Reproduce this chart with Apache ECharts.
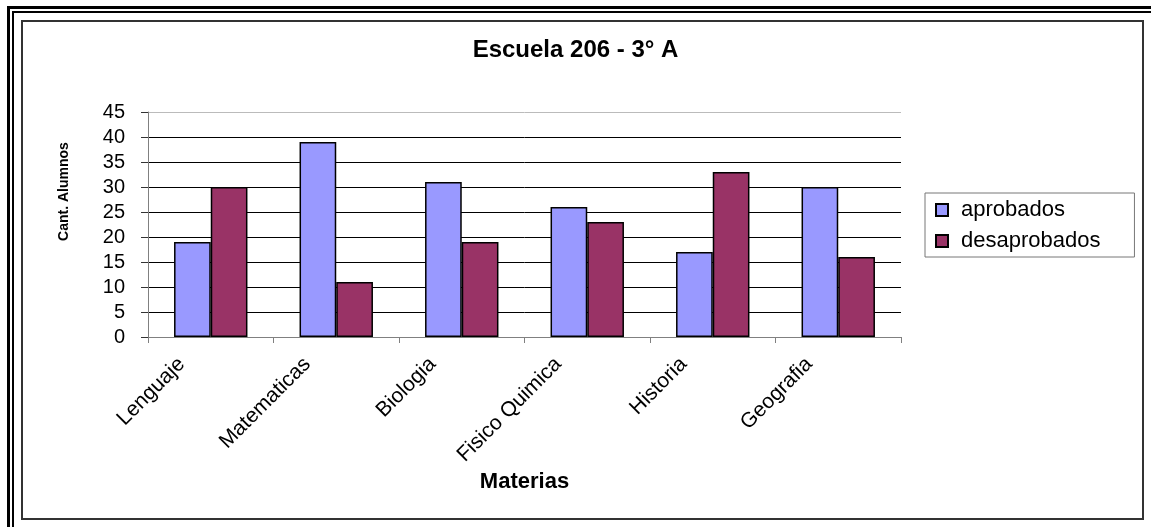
<!DOCTYPE html>
<html>
<head>
<meta charset="utf-8">
<title>Escuela 206 - 3° A</title>
<script src="https://cdn.jsdelivr.net/npm/echarts@6/dist/echarts.min.js"></script>
<style>
  html, body { margin: 0; padding: 0; background: #fff; }
  #chart { width: 1151px; height: 527px; }
</style>
</head>
<body>
<div id="chart"></div>
<script>
// Subjects and pass / fail counts per subject
const materias = ['Lenguaje', 'Matematicas', 'Biologia', 'Fisico Quimica', 'Historia', 'Geografia'];
const aprobados = [19, 39, 31, 26, 17, 30];
const desaprobados = [30, 11, 19, 23, 33, 16];
const seriesNames = ['aprobados', 'desaprobados'];
const yMin = 0, yMax = 45, yStep = 5;

const FONT = '"Liberation Sans", Arial, Helvetica, sans-serif';

const chart = echarts.init(document.getElementById('chart'), null, { renderer: 'canvas' });

chart.setOption({
  backgroundColor: '#ffffff',
  animation: false,
  textStyle: { fontFamily: FONT, color: '#000' },
  title: {
    text: 'Escuela 206 - 3° A',
    left: 'center',
    top: 33,
    padding: [5, 0, 5, 21],
    textStyle: { fontFamily: FONT, fontSize: 24, fontWeight: 'bold', color: '#000' }
  },
  legend: {
    orient: 'vertical',
    left: 925,
    top: 193,
    padding: [6, 34, 5, 10],
    itemGap: 9,
    itemWidth: 12,
    itemHeight: 12,
    icon: 'rect',
    borderColor: '#777',
    borderWidth: 1,
    data: seriesNames,
    textStyle: { fontFamily: FONT, fontSize: 22, color: '#000', padding: [0, 0, 0, 8] }
  },
  grid: { left: 148, right: 250, top: 112, bottom: 190, containLabel: false },
  xAxis: {
    type: 'category',
    data: materias,
    boundaryGap: true,
    name: 'Materias',
    nameLocation: 'middle',
    nameGap: 134,
    nameTextStyle: { fontFamily: FONT, fontSize: 22, fontWeight: 'bold', color: '#000' },
    axisLine: { show: true, lineStyle: { color: '#808080', width: 1 } },
    axisTick: { show: true, alignWithLabel: false, interval: 0, length: 6, lineStyle: { color: '#808080' } },
    axisLabel: {
      interval: 0,
      rotate: 45,
      margin: -5,
      padding: [0, 41, 24, 0],
      fontFamily: FONT,
      fontSize: 21,
      color: '#000'
    },
    splitLine: { show: false }
  },
  yAxis: {
    type: 'value',
    min: yMin,
    max: yMax,
    interval: yStep,
    name: 'Cant. Alumnos',
    nameLocation: 'middle',
    nameGap: 77,
    nameTextStyle: { fontFamily: FONT, fontSize: 14, fontWeight: 'bold', color: '#000', padding: [0, 0, 0, 66] },
    axisLine: { show: true, lineStyle: { color: '#808080', width: 1 } },
    axisTick: { show: true, length: 7, lineStyle: { color: '#333' } },
    axisLabel: { margin: 23, fontFamily: FONT, fontSize: 20, color: '#000' },
    splitLine: {
      show: true,
      lineStyle: {
        color: ['#000', '#000', '#000', '#000', '#000', '#000', '#000', '#000', '#000', '#bbb'],
        width: 1
      }
    }
  },
  series: [
    {
      name: seriesNames[0],
      type: 'bar',
      data: aprobados,
      barGap: '0%',
      barCategoryGap: '41.5%',
      itemStyle: { color: '#9999FF', borderColor: '#000', borderWidth: 1.5 }
    },
    {
      name: seriesNames[1],
      type: 'bar',
      data: desaprobados,
      barGap: '0%',
      barCategoryGap: '41.5%',
      itemStyle: { color: '#993366', borderColor: '#000', borderWidth: 1.5 }
    }
  ],
  graphic: [
    // double page frame
    { type: 'rect', silent: true, shape: { x: 8.5, y: 7.5, width: 1200, height: 600 },
      style: { fill: 'none', stroke: '#000', lineWidth: 3 } },
    { type: 'rect', silent: true, shape: { x: 13, y: 12, width: 1200, height: 600 },
      style: { fill: 'none', stroke: '#000', lineWidth: 2 } },
    // chart area border
    { type: 'rect', silent: true, shape: { x: 22, y: 21, width: 1121, height: 498 },
      style: { fill: 'none', stroke: '#333', lineWidth: 2 } }
  ]
});
</script>
</body>
</html>
